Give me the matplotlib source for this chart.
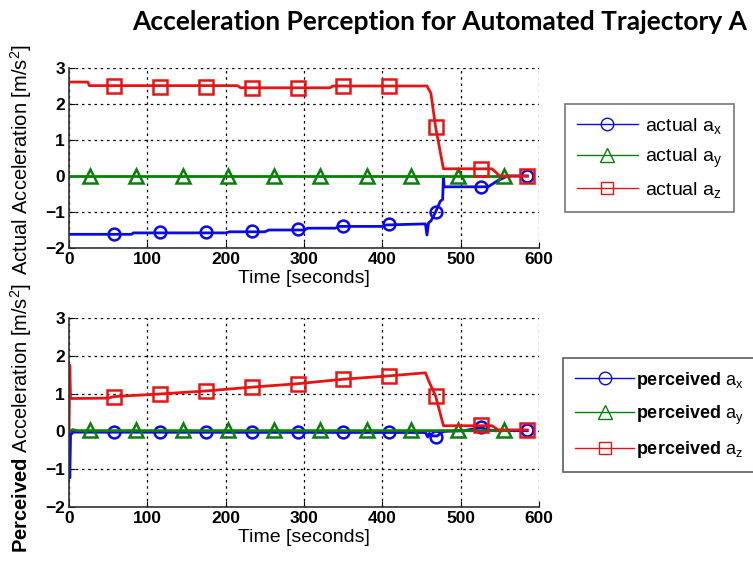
import matplotlib
matplotlib.use('Agg')
import matplotlib.pyplot as plt
from matplotlib.lines import Line2D

plt.rcParams['font.family'] = ['Liberation Sans', 'DejaVu Sans']
plt.rcParams['mathtext.fontset'] = 'custom'
plt.rcParams['mathtext.rm'] = 'Liberation Sans'
plt.rcParams['mathtext.bf'] = 'Liberation Sans:bold'
plt.rcParams['mathtext.it'] = 'Liberation Sans:italic'

# --- actual acceleration (top) ---
act_x_t = [0, 80, 82, 200, 205, 250, 255, 300, 305, 340, 345, 400, 405, 455, 457, 459, 462, 468, 474, 477, 478, 479, 535, 548, 560, 585]
act_x_v = [-1.62, -1.62, -1.58, -1.58, -1.55, -1.55, -1.5, -1.5, -1.45, -1.45, -1.4, -1.4, -1.36, -1.33, -1.64, -1.3, -1.25, -1.0, -0.7, -0.65, -0.02, -0.3, -0.3, -0.12, 0.0, 0.0]
act_y_t = [0, 562]
act_y_v = [0.0, 0.0]
act_z_t = [0, 24, 26, 215, 219, 333, 337, 457, 462, 468, 478, 540, 550, 585]
act_z_v = [2.61, 2.61, 2.51, 2.51, 2.45, 2.45, 2.5, 2.5, 2.3, 1.36, 0.2, 0.2, 0.0, 0.0]

act_x_mt = [57, 116, 175, 233, 292, 350, 409, 468, 526, 585]
act_x_mv = [-1.61, -1.56, -1.56, -1.53, -1.47, -1.39, -1.34, -1.0, -0.3, 0.0]
act_y_mt = [27, 85, 145, 203, 262, 321, 380, 437, 497, 555]
act_y_mv = [0.0, 0.0, 0.0, 0.0, 0.0, 0.0, 0.0, 0.0, 0.0, 0.0]
act_z_mt = [57, 116, 175, 233, 292, 350, 409, 468, 526, 585]
act_z_mv = [2.51, 2.48, 2.48, 2.45, 2.45, 2.5, 2.5, 1.36, 0.2, 0.0]

# --- perceived acceleration (bottom) ---
per_x_t = [0, 1, 2, 5, 455, 458, 460, 462, 470, 478, 505, 525, 540, 585]
per_x_v = [0.0, -1.23, -0.1, -0.02, -0.03, -0.15, -0.05, -0.12, -0.12, 0.0, 0.02, 0.1, 0.02, 0.02]
per_y_t = [0, 5, 10, 562]
per_y_v = [0.0, 0.05, 0.02, 0.02]
per_z_t = [0, 1, 2, 50, 57, 116, 175, 233, 291, 350, 409, 455, 460, 468, 478, 540, 548, 585]
per_z_v = [0.0, 1.75, 0.87, 0.88, 0.92, 0.99, 1.07, 1.17, 1.26, 1.38, 1.47, 1.55, 1.3, 0.94, 0.15, 0.15, 0.04, 0.04]

per_x_mt = [57, 116, 175, 233, 292, 350, 409, 468, 526, 585]
per_x_mv = [-0.02, -0.02, -0.02, -0.02, -0.02, -0.02, -0.02, -0.14, 0.12, 0.03]
per_y_mt = [27, 85, 145, 203, 262, 321, 380, 437, 497, 555]
per_y_mv = [0.05, 0.05, 0.05, 0.05, 0.05, 0.05, 0.05, 0.05, 0.05, 0.05]
per_z_mt = [57, 116, 175, 233, 292, 350, 409, 468, 526, 585]
per_z_mv = [0.92, 0.99, 1.07, 1.17, 1.26, 1.38, 1.47, 0.94, 0.17, 0.04]

x_ticks = [0, 100, 200, 300, 400, 500, 600]
y_ticks = [-2, -1, 0, 1, 2, 3]

c_blue = '#0a0ae6'
c_green = '#0a800a'
c_red = '#e81414'

fig = plt.figure(figsize=(7.53, 5.62), dpi=100)
ax1 = fig.add_axes([69 / 753, 1 - 248 / 562, 470 / 753, 180 / 562])
ax2 = fig.add_axes([69 / 753, 1 - 507 / 562, 470 / 753, 189 / 562])


def draw(ax, lines, marks):
    for (t, v), (mt, mv), (c, m, ms) in zip(lines, marks, [(c_blue, 'o', 8.5), (c_green, '^', 10), (c_red, 's', 9.5)]):
        ax.plot(t, v, color=c, lw=2)
        ax.plot(mt, mv, ls='none', marker=m, ms=ms, mfc='none', mec=c, mew=1.8)


draw(ax1, [(act_x_t, act_x_v), (act_y_t, act_y_v), (act_z_t, act_z_v)],
     [(act_x_mt, act_x_mv), (act_y_mt, act_y_mv), (act_z_mt, act_z_mv)])
draw(ax2, [(per_x_t, per_x_v), (per_y_t, per_y_v), (per_z_t, per_z_v)],
     [(per_x_mt, per_x_mv), (per_y_mt, per_y_mv), (per_z_mt, per_z_mv)])

for ax in (ax1, ax2):
    ax.set_xlim(0, 600)
    ax.set_ylim(-2, 3)
    ax.set_xticks(x_ticks)
    ax.set_yticks(y_ticks)
    ax.grid(True, color='black', ls=(0, (2, 3)), lw=0.9)
    ax.spines['top'].set_visible(False)
    ax.spines['right'].set_visible(False)
    for s in ('left', 'bottom'):
        ax.spines[s].set_color('#333333')
        ax.spines[s].set_linewidth(1.2)
    ax.tick_params(direction='in', length=4, labelsize=12.5, pad=3)
    for lab in ax.get_xticklabels() + ax.get_yticklabels():
        lab.set_fontweight('bold')
    ax.set_xlabel('Time [seconds]', fontsize=14, labelpad=2)

ax1.set_ylabel('Actual Acceleration [m/s$^2$]', fontsize=14.5, labelpad=3)
ax2.set_ylabel(r'$\mathbf{Perceived}$ Acceleration [m/s$^2$]', fontsize=14.5, labelpad=3)
ax2.yaxis.set_label_coords(-0.075, 0.47)
ax1.yaxis.set_label_coords(-0.075, 0.49)

fig.suptitle('Acceleration Perception for Automated Trajectory A', x=440 / 753, y=1 - 22 / 562,
             va='center', fontsize=19, fontweight='bold', family=['Lato', 'DejaVu Sans'])

styles = [(c_blue, 'o', 9), (c_green, '^', 10), (c_red, 's', 9)]
h = [Line2D([], [], color=c, lw=1, marker=m, ms=ms, mfc='none', mec=c, mew=1) for c, m, ms in styles]
names_act = ['actual a$_\\mathrm{x}$', 'actual a$_\\mathrm{y}$', 'actual a$_\\mathrm{z}$']
names_per = [r'$\mathbf{perceived}$ a$_\mathrm{x}$', r'$\mathbf{perceived}$ a$_\mathrm{y}$',
             r'$\mathbf{perceived}$ a$_\mathrm{z}$']

leg1 = fig.legend(h, names_act, loc='upper left', bbox_to_anchor=(565 / 753, 1 - 104 / 562),
                  fontsize=14, handlelength=3.15, fancybox=False, edgecolor='#555555',
                  borderaxespad=0, labelspacing=0.55, borderpad=0.6, handletextpad=0.35)
leg1.get_frame().set_linewidth(1.2)
leg2 = fig.legend(h, names_per, loc='upper left', bbox_to_anchor=(563 / 753, 1 - 358 / 562),
                  fontsize=13, handlelength=3.3, fancybox=False, edgecolor='#333333',
                  borderaxespad=0, labelspacing=0.7, borderpad=0.65, handletextpad=0.1)
leg2.get_frame().set_linewidth(1.2)

fig.savefig('out.png', dpi=100)
